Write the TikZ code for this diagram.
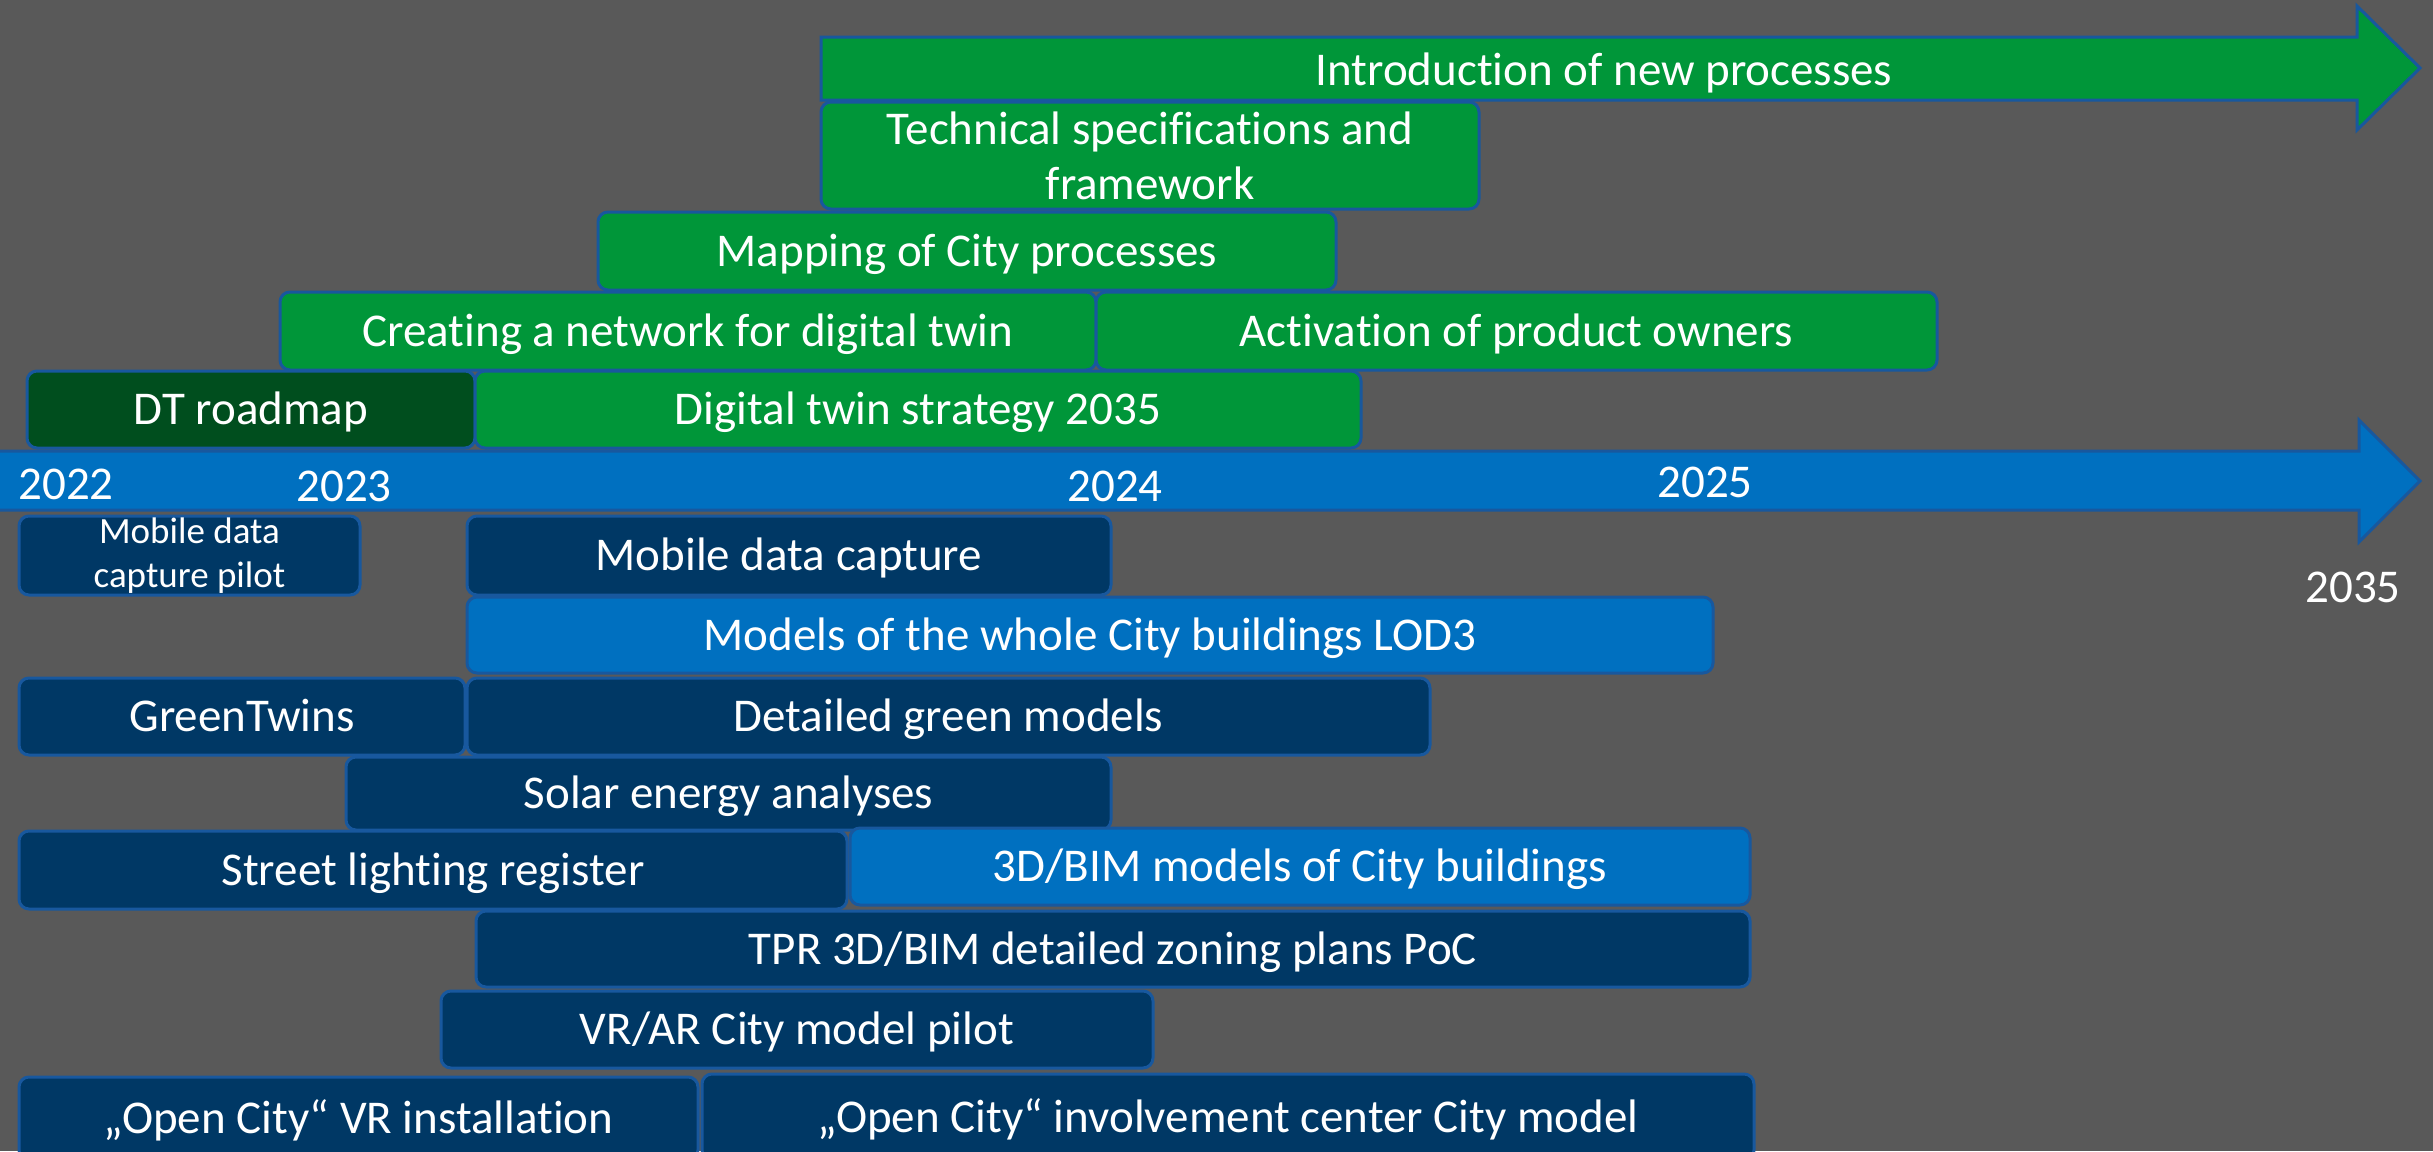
\documentclass[tikz,border=0pt]{standalone}
\usepackage{fontspec}
\setmainfont{Carlito}[Ligatures=NoCommon]
\definecolor{bg}{RGB}{89,89,89}
\definecolor{grn}{RGB}{0,150,57}
\definecolor{dgrn}{RGB}{0,78,30}
\definecolor{dblue}{RGB}{0,56,101}
\definecolor{lblue}{RGB}{0,112,192}
\definecolor{bord}{RGB}{24,88,158}
\newcommand\fbig{\fontsize{47}{55}\selectfont}
\newcommand\fsmall{\fontsize{37}{44}\selectfont}
\tikzset{
  box/.style={draw=bord, line width=3pt, rounded corners=10pt, text=white,
    inner sep=0pt, align=center, font=\fbig},
  one/.style={text height=30pt, text depth=0pt},
  gbox/.style={box, fill=grn},
  dgbox/.style={box, fill=dgrn},
  dbbox/.style={box, fill=dblue},
  lbbox/.style={box, fill=lblue},
  yr/.style={text=white, font=\fbig, inner sep=0pt},
  arr/.style={draw=bord, line width=3pt, line join=miter}
}
\begin{document}
\begin{tikzpicture}[x=1pt,y=-1pt]
\fill[bg] (0,0) rectangle (2433,1151);
\useasboundingbox (0,0) rectangle (2433,1151);
% top green arrow
\draw[arr, fill=grn] (821,37) -- (2357,37) -- (2357,6) -- (2420,68) -- (2357,130) -- (2357,100) -- (821,100) -- cycle;
\node[yr, text height=30pt, text depth=0pt] (intro) at (1604,70) {Introduction of new processes};
% blue timeline arrow
\draw[arr, fill=lblue] (-5,451) -- (2359,451) -- (2359,420) -- (2420,481) -- (2359,542) -- (2359,510) -- (-5,510) -- cycle;
\node[yr] (y2022) at (66,484) {2022};
\node[yr] (y2023) at (344,486) {2023};
\node[yr] (y2024) at (1115,486) {2024};
\node[yr] (y2025) at (1705,482) {2025};
\node[yr] (y2035) at (2353,587) {2035};
% upper boxes
\node[gbox, minimum width=658pt, minimum height=107pt] (tech) at (1150,155.5) {Technical specifications and\\framework};
\node[gbox, one, minimum width=738pt, minimum height=78pt] (mapping) at (967,251) {Mapping of City processes};
\node[gbox, one, minimum width=816pt, minimum height=78pt] (creating) at (688,331) {Creating a network for digital twin};
\node[gbox, one, minimum width=841pt, minimum height=78pt] (activation) at (1516.5,331) {Activation of product owners};
\node[dgbox, one, minimum width=448pt, minimum height=77pt] (dtroad) at (251,409.5) {DT roadmap};
\node[gbox, one, minimum width=886pt, minimum height=77pt] (strategy) at (918,409.5) {Digital twin strategy 2035};
% lower boxes
\node[dbbox, font=\fsmall, minimum width=341pt, minimum height=79pt] (mdcp) at (189.5,555.5) {Mobile data\\capture pilot};
\node[dbbox, one, minimum width=644pt, minimum height=79pt] (mdc) at (789,555.5) {Mobile data capture};
\node[lbbox, one, minimum width=1246pt, minimum height=76pt] (lod3) at (1090,635) {Models of the whole City buildings LOD3};
\node[dbbox, one, minimum width=446pt, minimum height=77pt] (greentwins) at (242,716.5) {GreenTwins};
\node[dbbox, one, minimum width=963pt, minimum height=77pt] (detgreen) at (948.5,716.5) {Detailed green models};
\node[dbbox, one, minimum width=765pt, minimum height=73pt] (solar) at (728.5,793.5) {Solar energy analyses};
\node[dbbox, one, minimum width=828pt, minimum height=78pt] (street) at (433,870) {Street lighting register};
\node[lbbox, one, minimum width=900pt, minimum height=77pt] (bim) at (1300,866.5) {3D/BIM models of City buildings};
\node[dbbox, one, minimum width=1274pt, minimum height=76pt] (tpr) at (1113,949) {TPR 3D/BIM detailed zoning plans PoC};
\node[dbbox, one, minimum width=712pt, minimum height=77pt] (vrar) at (797,1029.5) {VR/AR City model pilot};
\node[dbbox, one, minimum width=679pt, minimum height=83pt] (ocvr) at (358.5,1118.5) {„Open City“ VR installation};
\node[dbbox, one, minimum width=1052pt, minimum height=86pt] (ocinv) at (1228,1117) {„Open City“ involvement center City model};
\end{tikzpicture}
\end{document}
